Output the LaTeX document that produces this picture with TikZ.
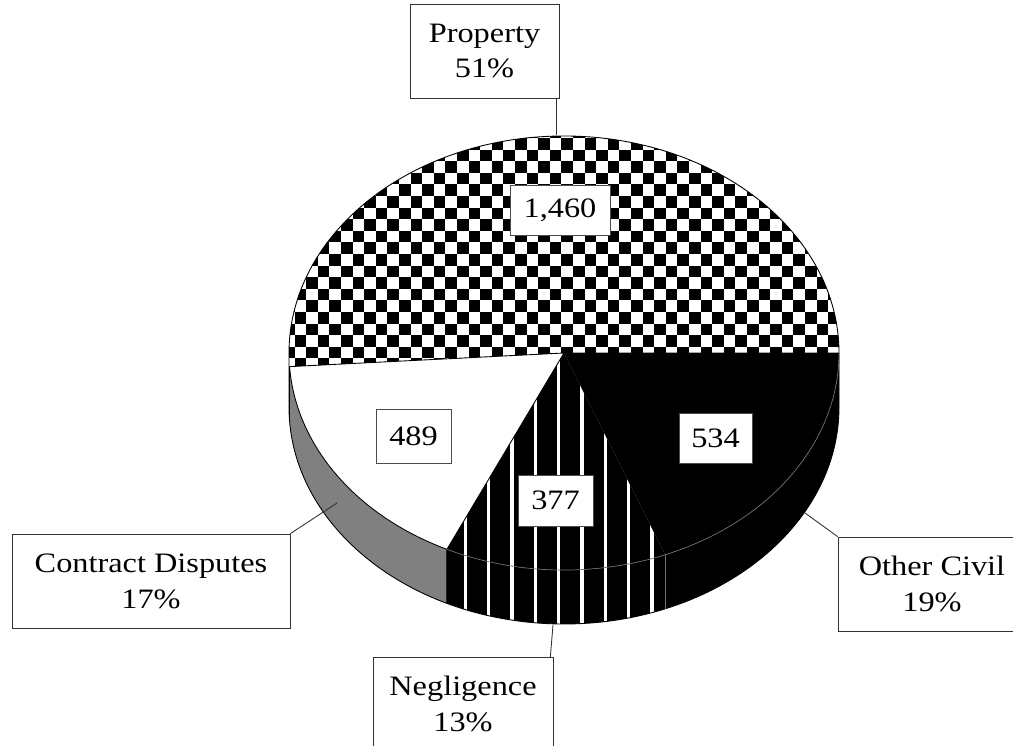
\documentclass[tikz,border=0pt]{standalone}
\usepackage{fontspec}
\setmainfont[FakeStretch=1.15]{Liberation Serif}
\usetikzlibrary{positioning,calc}

\begin{document}
\begin{tikzpicture}[
    x=0.02cm, y=0.02cm,
    pierad/.style={x radius=275, y radius=217},
    rim/.style={draw=black, line width=0.5pt},
    faint/.style={draw=black!55, line width=0.4pt},
    stripe/.style={draw=white, line width=0.065cm},
    valbox/.style={rectangle, draw=black!70, fill=white, inner sep=0pt, font=\fontsize{16}{20.4}\selectfont},
    catbox/.style={rectangle, draw=black!80, fill=white, align=center, inner sep=0pt, minimum height=1.88cm, font=\fontsize{16}{20.4}\selectfont},
    leader/.style={draw=black!80, line width=0.5pt}
]
    \useasboundingbox (0,0) rectangle (1013,746);
    \clip (0,0) rectangle (1013,746);

    % Pie points
    \coordinate (C) at (564,393);
    \path (C) ++(0:275 and 217) coordinate (p0);
    \path (C) ++(183.6:275 and 217) coordinate (p1);
    \path (C) ++(244.8:275 and 217) coordinate (p2);
    \path (C) ++(291.6:275 and 217) coordinate (p3);

    % Contract Disputes
    \fill[gray] (p1) arc[start angle=183.6, end angle=244.8, pierad] -- ++(0,-54) arc[start angle=244.8, end angle=183.6, pierad] -- cycle;
    \fill[white] (C) -- (p1) arc[start angle=183.6, end angle=244.8, pierad] -- cycle;

    % Negligence
    \fill[black] (C) -- (p2) -- ++(0,-54) arc[start angle=244.8, end angle=291.6, pierad] -- ++(0,54) -- cycle;
    \begin{scope}
        \clip (C) -- (p2) -- ++(0,-54) arc[start angle=244.8, end angle=291.6, pierad] -- ++(0,54) -- cycle;
        \foreach \sx in {0,...,8}
            \draw[stripe] ({465.5+23.3*\sx},100) -- ++(0,300);
    \end{scope}

    % Other Civil
    \fill[black] (C) -- (p3) -- ++(0,-54) arc[start angle=291.6, end angle=360, pierad] -- ++(0,54) -- cycle;

    % Property
    \begin{scope}
        \clip (C) -- (p0) arc[start angle=0, end angle=180, pierad] -- ++(0,-54) arc[start angle=180, end angle=183.6, pierad] -- ++(0,54) -- cycle;
        \fill[white] (280,320) rectangle (850,620);
        \foreach \i in {0,...,24}
            \foreach \j in {0,...,12} {
                \fill[black] ({283+23.2*\i},{318+23.2*\j}) rectangle ++(11.6,11.6);
                \fill[black] ({283+11.6+23.2*\i},{318+11.6+23.2*\j}) rectangle ++(11.6,11.6);
            }
    \end{scope}

    % Edges
    \draw[rim] (p0) arc[start angle=0, end angle=180, pierad] -- ++(0,-54) arc[start angle=180, end angle=360, pierad] -- cycle;
    \draw[rim] (p0) -- (C) -- (p1);
    \draw[rim] (C) -- (p2);
    \draw[rim] (p1) -- ++(0,-54);
    \draw[rim] (p1) arc[start angle=183.6, end angle=244.8, pierad] -- ++(0,-54);
    \draw[faint] (p2) arc[start angle=244.8, end angle=360, pierad];
    \draw[faint] (p3) -- ++(0,-54);

    % Values
    \node[valbox, minimum width=2cm, minimum height=1cm] (v1460) at (560,536) {1,460};
    \node[valbox, minimum width=1.5cm, minimum height=1.08cm] (v489) at (413.5,310) {489};
    \node[valbox, minimum width=1.5cm, minimum height=1.02cm] (v377) at (555.5,245.5) {377};
    \node[valbox, minimum width=1.46cm, minimum height=1cm] (v534) at (715.5,308) {534};

    % Categories
    \node[catbox, minimum width=2.98cm] (propbox) at (484.5,695) {Property\\51\%};
    \node[catbox, minimum width=5.56cm] (cdbox) at (151,165) {Contract Disputes\\17\%};
    \node[catbox, minimum width=3.6cm, anchor=north] (negbox) at (463,89) {Negligence\\13\%};
    \node[catbox, minimum width=3.76cm] (ocbox) at (932,162) {Other Civil\\19\%};

    % Leaders
    \coordinate (propend) at (556,611);
    \coordinate (cdend) at (337,243);
    \coordinate (negend) at (553,121);
    \coordinate (ocend) at (805,233);
    \draw[leader] (propbox.south -| propend) -- (propend);
    \draw[leader] (cdbox.north east) -- (cdend);
    \draw[leader] ([xshift=-0.06cm]negbox.north east) -- (negend);
    \draw[leader] (ocbox.north west) -- (ocend);
\end{tikzpicture}
\end{document}
